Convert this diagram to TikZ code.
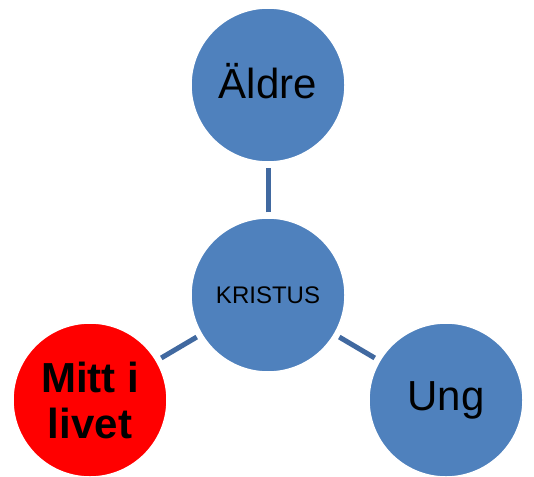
\documentclass[tikz,border=0pt]{standalone}
\usepackage{fontspec}
\setmainfont{Liberation Sans}
\definecolor{bollblue}{RGB}{79,129,189}
\definecolor{linkblue}{RGB}{65,105,160}

\begin{document}
\begin{tikzpicture}
      [x=1pt,y=-1pt
      ,boll/.style={circle,fill=bollblue,draw=white,line width=1.5pt,minimum size=154pt,inner sep=0pt,align=center}
      ,lnk/.style={color=linkblue,line width=5pt,shorten <=5pt,shorten >=5pt}
      ]
        \useasboundingbox (0,0) rectangle (534,476);
        \node[boll,font=\fontsize{42}{47}\selectfont] (aldre) at (268,85) {\raisebox{9pt}{Äldre}};
        \node[boll,font=\fontsize{24}{28}\selectfont] (kristus) at (268,295) {KRISTUS};
        \node[boll,fill=red,font=\fontsize{42}{46}\selectfont\bfseries] (mitt) at (90,400) {Mitt i\\livet};
        \node[boll,font=\fontsize{42}{47}\selectfont] (ung) at (446,400) {\raisebox{2pt}{Ung}};
        \foreach \n in {aldre,mitt,ung}{
          \draw[lnk] (kristus) -- (\n);
        }
      \end{tikzpicture}
\end{document}
